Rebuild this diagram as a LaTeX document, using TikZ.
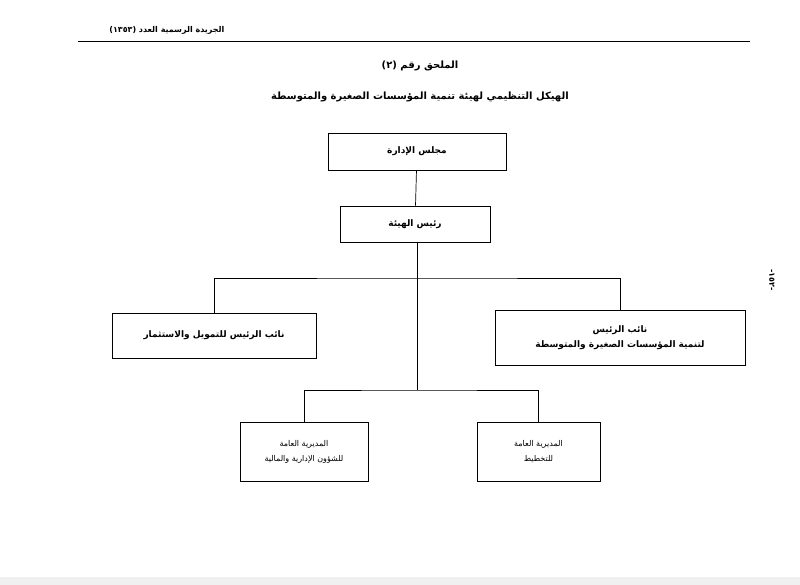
\documentclass[tikz,border=0pt]{standalone}
\usepackage{fontspec}
\newfontfamily\ar[Script=Arabic]{DejaVu Sans}
\TeXXeTstate=1
\begin{document}
\begin{tikzpicture}[x=1pt,y=-1pt,
  box/.style={draw,line width=0.9pt,inner sep=0pt,font=\ar\bfseries\fontsize{9}{15}\selectfont,align=center},
  ln/.style={line width=0.7pt}]
\useasboundingbox (0,0) rectangle (800,585);
\fill[gray!12] (0,577) rectangle (800,585);
\node[anchor=east,font=\ar\bfseries\fontsize{8}{10}\selectfont] (hdr) at (228,30) {\beginR الجريدة الرسمية العدد (١٣٥٣)\endR};
\draw[line width=1pt] (78,42) -- (750,42);
\node[rotate=-90,font=\ar\bfseries\fontsize{8}{10}\selectfont] (pg) at (772,280) {\beginR -١٥٢-\endR};
\node[font=\ar\bfseries\fontsize{10}{12}\selectfont] (t1) at (420,66) {\beginR الملحق رقم (٢)\endR};
\node[font=\ar\bfseries\fontsize{10}{12}\selectfont] (t2) at (420,97) {\beginR الهيكل التنظيمي لهيئة تنمية المؤسسات الصغيرة والمتوسطة\endR};
\node[box,minimum width=178,minimum height=37] (b1) at (417,151.5) {\beginR مجلس الإدارة\endR};
\node[box,minimum width=150,minimum height=36] (b2) at (415,224) {\beginR رئيس الهيئة\endR};
\node[box,minimum width=204,minimum height=45] (l) at (214,335.5) {\beginR نائب الرئيس للتمويل والاستثمار\endR};
\node[box,minimum width=250,minimum height=55] (r) at (620,337.5) {\beginR نائب الرئيس\endR\\\beginR لتنمية المؤسسات الصغيرة والمتوسطة\endR};
\node[box,minimum width=128,minimum height=59,font=\ar\fontsize{8}{15}\selectfont] (bl) at (304,451.5) {\beginR المديرية العامة\endR\\\beginR للشؤون الإدارية والمالية\endR};
\node[box,minimum width=123,minimum height=59,font=\ar\fontsize{8}{15}\selectfont] (br) at (538.5,451.5) {\beginR المديرية العامة\endR\\\beginR للتخطيط\endR};
\coordinate (j1) at (417,278);
\coordinate (j2) at (417,390);
\draw[ln] (b1) -- (b2);
\draw[ln] (b2.south -| j1) -- (j2);
\draw[ln] (l.north) |- (j1) -| (r.north);
\draw[ln] (bl.north) |- (j2) -| (br.north);
\end{tikzpicture}
\end{document}
